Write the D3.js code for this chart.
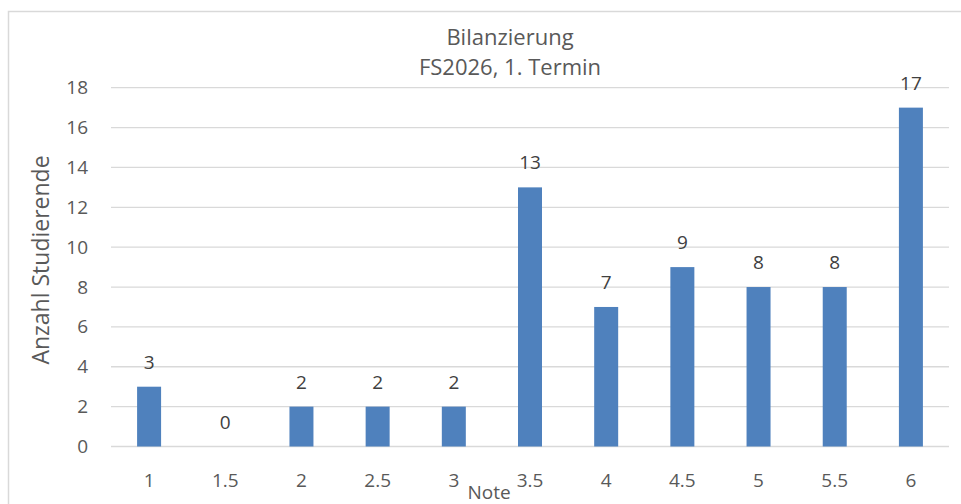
<!DOCTYPE html>
<html>
<head>
<meta charset="utf-8">
<script src="https://cdn.jsdelivr.net/npm/d3@7"></script>
<style>
  body { margin: 0; background: #fff; }
  svg text { font-family: "Open Sans", "Noto Sans", sans-serif; }
</style>
</head>
<body>
<svg id="chart" width="961" height="504"></svg>
<script>
// data
var notes = ['1', '1.5', '2', '2.5', '3', '3.5', '4', '4.5', '5', '5.5', '6'];
var counts = [3, 0, 2, 2, 2, 13, 7, 9, 8, 8, 17];
var yTicks = [0, 2, 4, 6, 8, 10, 12, 14, 16, 18];
var titleLines = ['Bilanzierung', 'FS2026, 1. Termin'];

var svg = d3.select('#chart');

// chart area border (only left/top visible)
svg.append('rect')
  .attr('x', 8.5).attr('y', 11.5)
  .attr('width', 1000).attr('height', 600)
  .attr('fill', 'none')
  .attr('stroke', '#d9d9d9')
  .attr('stroke-width', 1.5);

var x = d3.scaleBand()
  .domain(notes)
  .range([111, 949])
  .paddingInner(0.685)
  .paddingOuter(0.3425);

var y = d3.scaleLinear()
  .domain([0, 18])
  .range([446.5, 87.7]);

// gridlines
svg.append('g')
  .selectAll('line')
  .data(yTicks)
  .join('line')
  .attr('x1', 111).attr('x2', 949)
  .attr('y1', d => y(d)).attr('y2', d => y(d))
  .attr('stroke', '#d9d9d9')
  .attr('stroke-width', 1.3);

// y axis labels
var yAxis = d3.axisLeft(y).tickValues(yTicks).tickSize(0).tickPadding(0);
svg.append('g')
  .attr('transform', 'translate(88,0)')
  .call(yAxis)
  .call(g => g.select('.domain').remove())
  .selectAll('text')
  .attr('font-size', 19)
  .attr('fill', '#595959');

// x axis labels
var xAxis = d3.axisBottom(x).tickSize(0).tickPadding(0);
svg.append('g')
  .attr('transform', 'translate(0,' + 473 + ')')
  .call(xAxis)
  .call(g => g.select('.domain').remove())
  .selectAll('text')
  .attr('font-size', 19)
  .attr('fill', '#595959');

// bars
svg.append('g')
  .selectAll('rect')
  .data(counts)
  .join('rect')
  .attr('x', (d, i) => x(notes[i]))
  .attr('y', d => y(d))
  .attr('width', x.bandwidth())
  .attr('height', d => y(0) - y(d))
  .attr('fill', '#4f81bd');

// value labels
svg.append('g')
  .selectAll('text')
  .data(counts)
  .join('text')
  .attr('x', (d, i) => x(notes[i]) + x.bandwidth() / 2)
  .attr('y', d => y(d) - 18)
  .attr('text-anchor', 'middle')
  .attr('font-size', 19)
  .attr('fill', '#404040')
  .text(d => d);

// title
svg.append('g')
  .selectAll('text')
  .data(titleLines)
  .join('text')
  .attr('x', 510)
  .attr('y', (d, i) => 45 + i * 30)
  .attr('text-anchor', 'middle')
  .attr('font-size', 22)
  .attr('fill', '#595959')
  .text(d => d);

// axis titles
svg.append('text')
  .attr('transform', 'translate(49,260) rotate(-90)')
  .attr('text-anchor', 'middle')
  .attr('font-size', 23)
  .attr('fill', '#595959')
  .text('Anzahl Studierende');

svg.append('text')
  .attr('x', 489)
  .attr('y', 499)
  .attr('text-anchor', 'middle')
  .attr('font-size', 19)
  .attr('fill', '#595959')
  .text('Note');
</script>
</body>
</html>
